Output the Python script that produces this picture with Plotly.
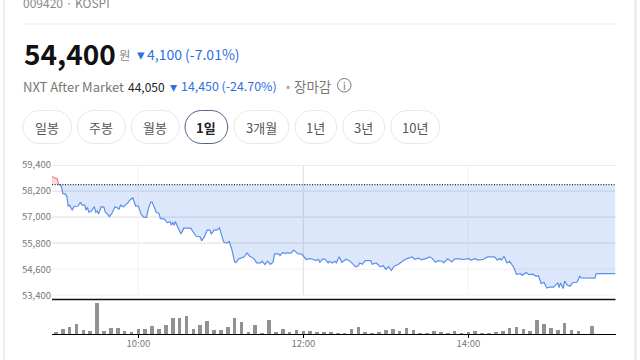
import plotly.graph_objects as go
from plotly.subplots import make_subplots

W, H = 640, 360
FONT = "Noto Sans CJK KR"

# ---- data ----
prev_close = 58500
up_minutes = [537, 538, 541, 542]
up_prices = [58923, 58830, 58770, 58510]
down_minutes = [542, 544, 545, 547, 548, 549, 550, 552, 553, 556, 558, 559, 561, 562, 563, 564, 566, 568, 569, 570, 571, 573, 575, 576, 577, 579, 581, 583, 584, 586, 587, 589, 592, 594, 596, 598, 600, 602, 604, 606, 607, 609, 610, 612, 613, 615, 616, 619, 621, 623, 624, 625, 626, 627, 628, 631, 633, 638, 640, 642, 645, 646, 648, 650, 652, 653, 655, 657, 659, 661, 662, 664, 666, 668, 670, 671, 673, 677, 679, 681, 684, 686, 689, 690, 692, 694, 696, 698, 699, 702, 703, 705, 707, 708, 709, 711, 713, 716, 719, 722, 724, 727, 729, 731, 732, 734, 736, 738, 739, 741, 743, 744, 746, 748, 751, 754, 758, 760, 761, 763, 765, 769, 770, 773, 776, 778, 780, 782, 784, 786, 789, 792, 795, 799, 801, 804, 806, 809, 812, 814, 816, 818, 821, 822, 825, 828, 830, 834, 836, 840, 842, 845, 847, 851, 854, 859, 861, 863, 864, 866, 868, 870, 872, 873, 875, 878, 879, 882, 884, 887, 889, 891, 893, 895, 897, 899, 902, 904, 905, 906, 907, 909, 910, 912, 914, 916, 919, 921, 922, 932, 933, 947]
down_prices = [58510, 58430, 58090, 58060, 57940, 57510, 57550, 57320, 57480, 57510, 57690, 57550, 57550, 57320, 57450, 57230, 57290, 57480, 57230, 57280, 57140, 57480, 57450, 57230, 57170, 57020, 57200, 57480, 57450, 57370, 57550, 57480, 57630, 57790, 57890, 57510, 57510, 57140, 56990, 56990, 57320, 57690, 57690, 57400, 57220, 57170, 56940, 56910, 56740, 56800, 56620, 56770, 56620, 56800, 56630, 56220, 56490, 56490, 56320, 56120, 56090, 55910, 56090, 56400, 56400, 56220, 56400, 56400, 56510, 56060, 55860, 55800, 55880, 55510, 54940, 54910, 55080, 55170, 55350, 55200, 55090, 54890, 54890, 54970, 54820, 54970, 54820, 54940, 55310, 55310, 55230, 55370, 55320, 55370, 55340, 55340, 55480, 55320, 55290, 55050, 55090, 55060, 55000, 55060, 54920, 55080, 55050, 54890, 54970, 54890, 54970, 54890, 55170, 54920, 55060, 54970, 54710, 54760, 54890, 54830, 55000, 55000, 54830, 54890, 54710, 54760, 54600, 54720, 54540, 54740, 54820, 54970, 55080, 55170, 55060, 55110, 55030, 55090, 55170, 55080, 54920, 55000, 54970, 54890, 55080, 54940, 55080, 55080, 55050, 55090, 55020, 55090, 55020, 55060, 55170, 55170, 55030, 55090, 55020, 55190, 54890, 54970, 54790, 54680, 54370, 54400, 54320, 54450, 54350, 54370, 54280, 54290, 53940, 54000, 53740, 53780, 53780, 53910, 53970, 53750, 53970, 53710, 54050, 53860, 53820, 53990, 54000, 54280, 54200, 54190, 54400, 54400]
volume_minutes = [540, 545, 550, 555, 560, 565, 570, 575, 580, 585, 590, 595, 600, 605, 610, 615, 620, 625, 630, 635, 640, 645, 650, 655, 660, 665, 670, 675, 680, 685, 690, 695, 700, 705, 710, 715, 720, 725, 730, 735, 740, 745, 750, 755, 760, 765, 770, 775, 780, 785, 790, 795, 800, 805, 810, 815, 820, 825, 830, 835, 840, 845, 850, 855, 860, 865, 870, 875, 880, 885, 890, 895, 900, 905, 910, 915, 920, 930]
volumes = [5, 15, 20, 29, 12, 10, 92, 10, 19, 17, 8, 4, 16, 16, 24, 16, 27, 47, 47, 53, 16, 27, 38, 12, 11, 21, 49, 36, 4, 28, 3, 42, 7, 15, 7, 11, 8, 8, 7, 6, 7, 1, 3, 16, 20, 6, 3, 7, 12, 15, 9, 17, 12, 2, 2, 8, 6, 3, 8, 2, 4, 10, 3, 3, 6, 9, 17, 21, 15, 9, 41, 29, 17, 12, 33, 12, 10, 23]
price_ticks = [53400, 54600, 55800, 57000, 58200, 59400]
price_labels = ["53,400", "54,600", "55,800", "57,000", "58,200", "59,400"]
time_ticks = [600, 720, 840]
time_labels = ["10:00", "12:00", "14:00"]
buttons = ["일봉", "주봉", "월봉", "1일", "3개월", "1년", "3년", "10년"]

# ---- layout helpers ----
PLOT_L, PLOT_R = 52, 615.5


def px(x):
    return x / W


def py(y):
    return 1 - y / H


def pill(x0, x1, y0, y1):
    r = (y1 - y0) / 2
    k = r * 0.5523
    pts = [
        ("M", x0 + r, y0), ("L", x1 - r, y0),
        ("C", x1 - r + k, y0, x1, y0 + r - k, x1, y0 + r),
        ("C", x1, y0 + r + k, x1 - r + k, y1, x1 - r, y1),
        ("L", x0 + r, y1),
        ("C", x0 + r - k, y1, x0, y0 + r + k, x0, y0 + r),
        ("C", x0, y0 + r - k, x0 + r - k, y0, x0 + r, y0),
    ]
    out = []
    for p in pts:
        nums = p[1:]
        coords = " ".join(
            f"{px(nums[i]):.5f},{py(nums[i + 1]):.5f}" for i in range(0, len(nums), 2)
        )
        out.append(f"{p[0]} {coords}")
    return " ".join(out) + " Z"


fig = make_subplots(rows=2, cols=1)

# price panel
fig.add_trace(go.Scatter(x=[up_minutes[0], up_minutes[-1]], y=[prev_close, prev_close], mode="lines",
                         line=dict(width=0), hoverinfo="skip"), row=1, col=1)
fig.add_trace(go.Scatter(x=up_minutes, y=up_prices, mode="lines", fill="tonexty",
                         fillcolor="rgba(240,80,80,0.22)", line=dict(color="#F0626A", width=1)), row=1, col=1)
fig.add_trace(go.Scatter(x=[down_minutes[0], down_minutes[-1]], y=[prev_close, prev_close], mode="lines",
                         line=dict(width=0), hoverinfo="skip"), row=1, col=1)
fig.add_trace(go.Scatter(x=down_minutes, y=down_prices, mode="lines", fill="tonexty",
                         fillcolor="rgba(75,125,235,0.19)", line=dict(color="#5A90E8", width=1.2)), row=1, col=1)
fig.add_trace(go.Scatter(x=[537.2, 947], y=[prev_close, prev_close], mode="lines",
                         line=dict(color="#222222", width=1.3, dash="1px,1.6px")), row=1, col=1)

# volume panel
fig.add_trace(go.Bar(x=volume_minutes, y=volumes, width=2.6, marker=dict(color="#919191", line_width=0)),
              row=2, col=1)

x_range = [537.2, 947]
fig.update_xaxes(range=x_range, domain=[px(PLOT_L), px(PLOT_R)], showgrid=False, zeroline=False)
fig.update_xaxes(showticklabels=False, ticks="", row=1, col=1)
fig.update_xaxes(tickmode="array", tickvals=time_ticks, ticktext=time_labels, ticks="outside", ticklen=3,
                 tickwidth=1, tickcolor="#000", showline=True, linecolor="#000", linewidth=1.3,
                 ticklabelstandoff=-3,
                 tickfont=dict(family=FONT, size=9.5, color="#777"), row=2, col=1)
fig.update_yaxes(range=[53400, 59400], domain=[py(295.3), py(165)], tickmode="array", tickvals=price_ticks,
                 ticktext=price_labels, showgrid=False, zeroline=False, ticks="", ticklen=0,
                 tickfont=dict(family=FONT, size=9.5, color="#777"), row=1, col=1)
fig.update_yaxes(range=[0, 102], domain=[py(334), py(300)], showticklabels=False, showgrid=False,
                 zeroline=False, row=2, col=1)

shapes = []
# grid (price lines and time lines), data-referenced
for v in price_ticks:
    c = "#f5f5f5" if v in (54600,) else "#e4e4e4"
    shapes.append(dict(type="line", xref="x", yref="y", x0=x_range[0], x1=x_range[1], y0=v, y1=v,
                       line=dict(color=c, width=1.3), layer="below"))
for t in time_ticks:
    c = "#e4e4e4" if t == 720 else "#f5f5f5"
    shapes.append(dict(type="line", xref="x", yref="y", x0=t, x1=t, y0=53400, y1=59400,
                       line=dict(color=c, width=1.3), layer="below"))
# black separator
shapes.append(dict(type="line", xref="paper", yref="paper", x0=px(PLOT_L), x1=px(PLOT_R), y0=py(299.5), y1=py(299.5),
                   line=dict(color="#111", width=1.6)))
# page frame lines
shapes.append(dict(type="line", xref="paper", yref="paper", x0=px(4), x1=px(4), y0=0, y1=1, line=dict(color="#eeeeee", width=2)))
shapes.append(dict(type="line", xref="paper", yref="paper", x0=px(635.5), x1=px(635.5), y0=0, y1=1, line=dict(color="#e8e8e8", width=2)))
shapes.append(dict(type="line", xref="paper", yref="paper", x0=px(23), x1=px(616), y0=py(24), y1=py(24), line=dict(color="#f4f4f4", width=1.6)))
# info icon
shapes.append(dict(type="circle", xref="paper", yref="paper", x0=px(337.5), x1=px(351), y0=py(78.5), y1=py(92),
                   line=dict(color="#777", width=1)))

annotations = []


def text(x, y, s, size, color, anchor="left", bold=False):
    annotations.append(dict(xref="paper", yref="paper", x=px(x), y=py(y), text=f"<b>{s}</b>" if bold else s,
                            showarrow=False, xanchor=anchor, yanchor="middle", align=anchor,
                            font=dict(family=FONT, size=size, color=color), borderpad=0, borderwidth=0))


BLUE = "#2F6FE0"
GREY = "#777777"
text(23, 3, "009420 · KOSPI", 12, "#888888")
text(24, 53, "54,400", 28, "#111111", bold=True)
text(119, 54, "원", 12.5, "#888888")
text(137, 53.5, "▾", 15, BLUE)
text(147, 54, "4,100 (-7.01%)", 14, BLUE)
text(23, 86, "NXT After Market", 13, GREY)
text(127.5, 86, "44,050", 12, "#222222")
text(170, 85.5, "▾", 14, BLUE)
text(180.5, 86, "14,450 (-24.70%)", 12.4, BLUE)
text(288, 85.5, "•", 12, "#aaaaaa", anchor="center")
text(294, 86, "장마감", 13.5, GREY)
text(344.2, 85.2, "i", 10, "#777777", anchor="center")

button_edges = [(23, 71.7), (77.3, 125.3), (131.3, 179.3), (185, 227.7), (234, 288.7), (295, 336.7), (342.7, 384.7), (390.7, 439.7)]
for label, (x0, x1) in zip(buttons, button_edges):
    selected = label == "1일"
    shapes.append(dict(type="path", xref="paper", yref="paper", path=pill(x0, x1, 110.5, 143.5),
                       fillcolor="#ffffff", line=dict(color="#4F6288" if selected else "#e8e8e8", width=1)))
    text((x0 + x1) / 2, 127, label, 13, "#222222" if selected else "#555555", anchor="center", bold=selected)

fig.update_layout(width=W, height=H, margin=dict(l=0, r=0, t=0, b=0, autoexpand=False), paper_bgcolor="#ffffff",
                  plot_bgcolor="rgba(0,0,0,0)", showlegend=False, shapes=shapes, annotations=annotations,
                  bargap=0, font=dict(family=FONT))

fig.write_html("out.html", config=dict(displayModeBar=False),
               post_script="document.body.style.margin='0';document.documentElement.style.overflow='hidden';")
